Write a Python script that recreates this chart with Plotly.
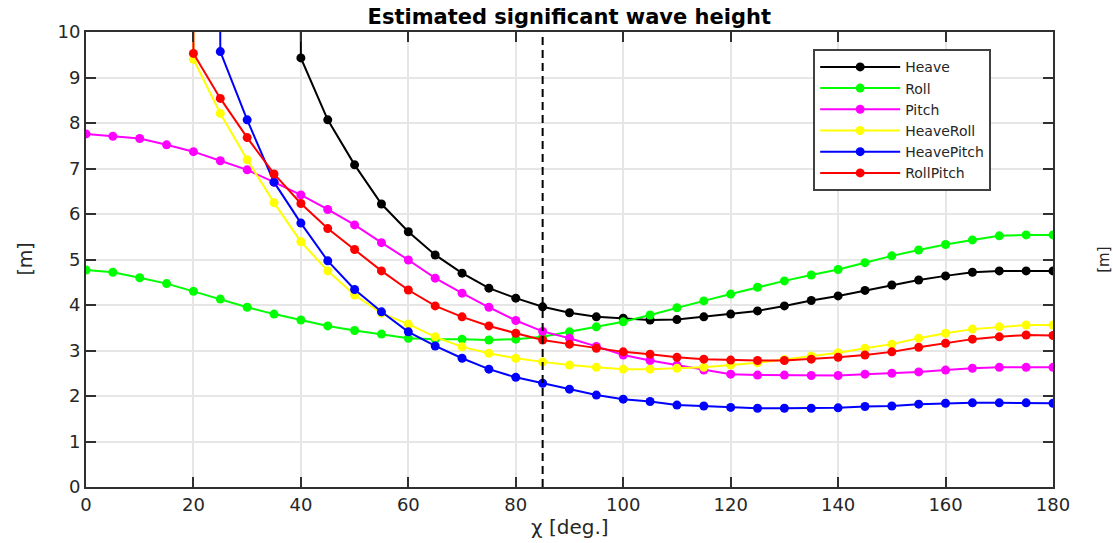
import plotly.graph_objects as go

chi = list(range(0, 181, 5))

heave = [None, None, None, None, None, None, None, 200,
         9.43, 8.07, 7.08, 6.22, 5.61, 5.10, 4.70, 4.37, 4.15, 3.96, 3.83, 3.74,
         3.71, 3.67, 3.68, 3.74, 3.80, 3.87, 3.98, 4.10, 4.20, 4.32, 4.44, 4.55,
         4.64, 4.72, 4.75, 4.75, 4.75]
roll = [4.77, 4.72, 4.60, 4.47, 4.30, 4.13, 3.95, 3.80, 3.67, 3.54, 3.44, 3.36,
        3.27, 3.25, 3.25, 3.23, 3.25, 3.30, 3.41, 3.52, 3.63, 3.78, 3.94, 4.09,
        4.24, 4.39, 4.53, 4.66, 4.78, 4.93, 5.08, 5.21, 5.33, 5.43, 5.52, 5.54, 5.54]
pitch = [7.76, 7.71, 7.66, 7.52, 7.37, 7.17, 6.97, 6.70, 6.42, 6.10, 5.76, 5.37,
         4.99, 4.59, 4.26, 3.95, 3.66, 3.42, 3.27, 3.09, 2.90, 2.78, 2.68, 2.57,
         2.48, 2.46, 2.46, 2.45, 2.45, 2.48, 2.50, 2.53, 2.57, 2.61, 2.63, 2.63, 2.63]
heave_roll = [None, None, None, 200, 9.40, 8.21, 7.19, 6.25, 5.39, 4.75, 4.22, 3.82,
              3.58, 3.30, 3.08, 2.94, 2.83, 2.75, 2.68, 2.63, 2.59, 2.59, 2.61, 2.63,
              2.68, 2.73, 2.80, 2.88, 2.95, 3.05, 3.14, 3.27, 3.38, 3.47, 3.52, 3.56, 3.56]
heave_pitch = [None, None, None, None, 200, 9.57, 8.07, 6.70, 5.80, 4.97, 4.34, 3.85,
               3.41, 3.10, 2.83, 2.59, 2.41, 2.28, 2.15, 2.02, 1.93, 1.88, 1.80, 1.78,
               1.75, 1.73, 1.73, 1.73, 1.74, 1.77, 1.78, 1.82, 1.84, 1.85, 1.85, 1.85, 1.84]
roll_pitch = [None, None, None, 200, 9.53, 8.54, 7.68, 6.88, 6.23, 5.68, 5.22, 4.75,
              4.33, 3.98, 3.74, 3.54, 3.38, 3.23, 3.14, 3.05, 2.97, 2.92, 2.85, 2.81,
              2.79, 2.78, 2.78, 2.81, 2.85, 2.90, 2.97, 3.07, 3.16, 3.25, 3.30, 3.34, 3.33]

series_names = ["Heave", "Roll", "Pitch", "HeaveRoll", "HeavePitch", "RollPitch"]
series_values = [heave, roll, pitch, heave_roll, heave_pitch, roll_pitch]
series_colors = ["#000000", "#00ff00", "#ff00ff", "#ffff00", "#0000ff", "#ff0000"]

chi_ref = 85
x_ticks = list(range(0, 181, 20))
y_ticks = list(range(0, 11, 1))

FONT = "DejaVu Sans"
TXT = "#262626"

fig = go.Figure()
for name, vals, col in zip(series_names, series_values, series_colors):
    fig.add_trace(go.Scatter(
        x=chi, y=vals, name=name, mode="lines+markers",
        line=dict(color=col, width=2),
        marker=dict(color=col, size=9, symbol="circle"),
        connectgaps=False,
    ))

fig.add_vline(x=chi_ref, line=dict(color="#000000", width=2, dash="8px,5px"))

axis_common = dict(
    showline=True, linecolor="#303030", linewidth=2, mirror="ticks",
    ticks="inside", ticklen=10, tickcolor="#303030", tickwidth=1.5,
    showgrid=True, gridcolor="#e6e6e6", gridwidth=1.5, zeroline=False,
    tickfont=dict(family=FONT, size=18, color=TXT),
)

fig.update_xaxes(range=[0, 180], tickvals=x_ticks, **axis_common)
fig.update_yaxes(range=[0, 10], tickvals=y_ticks, **axis_common)

fig.update_layout(
    width=1113, height=543,
    margin=dict(l=86, r=60, t=32, b=56),
    plot_bgcolor="white", paper_bgcolor="white",
    title=dict(text="<b>Estimated significant wave height</b>",
               x=0.5115, xanchor="center", y=0.97, yanchor="middle",
               font=dict(family=FONT, size=21, color="#000000")),
    legend=dict(x=0.752, y=0.962, xanchor="left", yanchor="top",
                bgcolor="white", bordercolor="#404040", borderwidth=2,
                font=dict(family=FONT, size=14, color=TXT),
                itemwidth=80, tracegroupgap=0),
    showlegend=True,
    annotations=[
        dict(text="\u03c7 [deg.]", xref="paper", yref="paper", x=0.5, y=-0.088,
             xanchor="center", yanchor="middle", showarrow=False,
             font=dict(family=FONT, size=20, color=TXT)),
        dict(text="[m]", xref="paper", yref="paper", x=-0.064, y=0.5,
             xanchor="center", yanchor="middle", showarrow=False, textangle=-90,
             font=dict(family=FONT, size=19, color=TXT)),
        dict(text="[m]", xref="paper", yref="paper", x=1.052, y=0.5,
             xanchor="center", yanchor="middle", showarrow=False, textangle=-90,
             font=dict(family=FONT, size=15, color=TXT)),
    ],
)

fig.write_html("out.html")
